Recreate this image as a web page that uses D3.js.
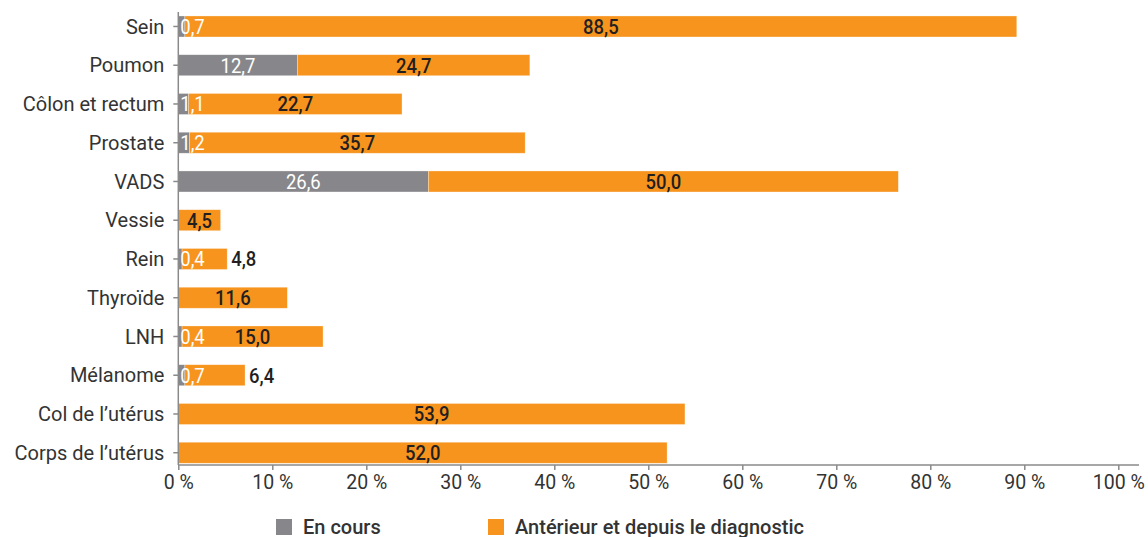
<!DOCTYPE html>
<html><head><meta charset="utf-8">
<script src="https://cdn.jsdelivr.net/npm/d3@7"></script>
<style>
html,body{margin:0;padding:0;background:#fff;}
svg{display:block;font-family:Roboto,"Noto Sans",sans-serif;}
</style></head>
<body>
<svg id="chart" width="1148" height="537"></svg>
<script>
const categories = ["Sein","Poumon","Côlon et rectum","Prostate","VADS","Vessie","Rein","Thyroïde","LNH","Mélanome","Col de l’utérus","Corps de l’utérus"];
const enCours = [0.7,12.7,1.1,1.2,26.6,0,0.4,0,0.4,0.7,0,0];
const anterieur = [88.5,24.7,22.7,35.7,50.0,4.5,4.8,11.6,15.0,6.4,53.9,52.0];
const xTicks = [0,10,20,30,40,50,60,70,80,90,100];
const seriesNames = ["En cours","Antérieur et depuis le diagnostic"];
const colors = ["#87878b","#f7941e"];

const svg = d3.select("#chart");
const x = d3.scaleLinear().domain([0,100]).range([178.3,1118.3]);
const y = d3.scaleBand().domain(categories).range([7.1,472.1]).paddingInner(0.458).paddingOuter(0.229);
const fmt = v => d3.format(".1f")(v).replace(".", ",");
const SX = 0.88;

// x axis
const xa = svg.append("g").attr("transform","translate(0,465)")
  .call(d3.axisBottom(x).tickValues(xTicks).tickFormat(d => d + " %").tickSize(5).tickPadding(5));
xa.select(".domain").remove();
xa.selectAll(".tick line").attr("stroke","#8a8a8a").attr("stroke-width",1.5);
xa.selectAll(".tick text").attr("fill","#333").style("font-size","19.5px").style("font-family","Roboto");
svg.append("line").attr("x1",x(0)).attr("x2",1139).attr("y1",465).attr("y2",465).attr("stroke","#8a8a8a").attr("stroke-width",1.5);

// y axis
const ya = svg.append("g").attr("transform",`translate(${x(0)},0)`)
  .call(d3.axisLeft(y).tickSize(5).tickPadding(9));
ya.select(".domain").remove();
ya.selectAll(".tick line").attr("stroke","#8a8a8a").attr("stroke-width",1.5);
ya.selectAll(".tick text").attr("fill","#333").attr("dy","0.36em").style("font-size","20px").style("font-family","Roboto");

// bars
const rows = categories.map((c,i) => ({c, a: enCours[i], b: anterieur[i]}));
const g = svg.append("g");
rows.forEach(r => {
  const yy = y(r.c), h = y.bandwidth();
  if (r.a > 0) g.append("rect").attr("x",x(0)).attr("y",yy).attr("width",x(r.a)-x(0)).attr("height",h).attr("fill",colors[0]).attr("stroke","#fff").attr("stroke-opacity",0.5).attr("stroke-width",0.6);
  g.append("rect").attr("x",x(r.a)).attr("y",yy).attr("width",x(r.a+r.b)-x(r.a)).attr("height",h).attr("fill",colors[1]).attr("stroke","#fff").attr("stroke-opacity",0.5).attr("stroke-width",0.6);
});
svg.append("line").attr("x1",x(0)).attr("x2",x(0)).attr("y1",12).attr("y2",465).attr("stroke","#8a8a8a").attr("stroke-width",1.5);

// labels
const lg = svg.append("g").style("font-size","21px").style("font-family","Roboto");
function addLabel(txt, cx, cy, anchor, fill, weight){
  return lg.append("text").text(txt).attr("text-anchor",anchor).attr("fill",fill)
    .style("font-weight",weight).attr("transform",`translate(${cx},${cy}) scale(${SX},1)`);
}
rows.forEach(r => {
  const cy = y(r.c) + y.bandwidth()/2 + 7.5;
  let greyRight = x(0);
  if (r.a > 0) {
    const x0 = x(0), x1 = x(r.a);
    const t = addLabel(fmt(r.a), 0, cy, "middle", "#fff", 400);
    const w = t.node().getComputedTextLength()*SX;
    if (w + 4 > x1 - x0) {
      t.attr("text-anchor","start").attr("transform",`translate(${x0+2},${cy}) scale(${SX},1)`);
      greyRight = x0 + 2 + w;
    } else {
      const cx = (x0+x1)/2;
      t.attr("transform",`translate(${cx},${cy}) scale(${SX},1)`);
      greyRight = cx + w/2;
    }
  }
  const s0 = x(r.a), s1 = x(r.a + r.b);
  const t2 = addLabel(fmt(r.b), 0, cy, "middle", "#231f20", 500);
  const w2 = t2.node().getComputedTextLength()*SX;
  const cx2 = (s0+s1)/2;
  if (cx2 - w2/2 < greyRight + 2 || w2 + 4 > s1 - s0) {
    t2.attr("text-anchor","start").attr("transform",`translate(${s1+4},${cy}) scale(${SX},1)`);
  } else {
    t2.attr("transform",`translate(${cx2},${cy}) scale(${SX},1)`);
  }
});

// legend
const legX = [276, 488];
const leg = svg.append("g");
seriesNames.forEach((n,i) => {
  leg.append("rect").attr("x",legX[i]).attr("y",519).attr("width",16).attr("height",16).attr("fill",colors[i]);
  leg.append("text").attr("x",legX[i]+27).attr("y",533.5).text(n).attr("fill","#333")
    .style("font-size","20px").style("font-weight",500).style("font-family","Roboto");
});
</script>
</body></html>
